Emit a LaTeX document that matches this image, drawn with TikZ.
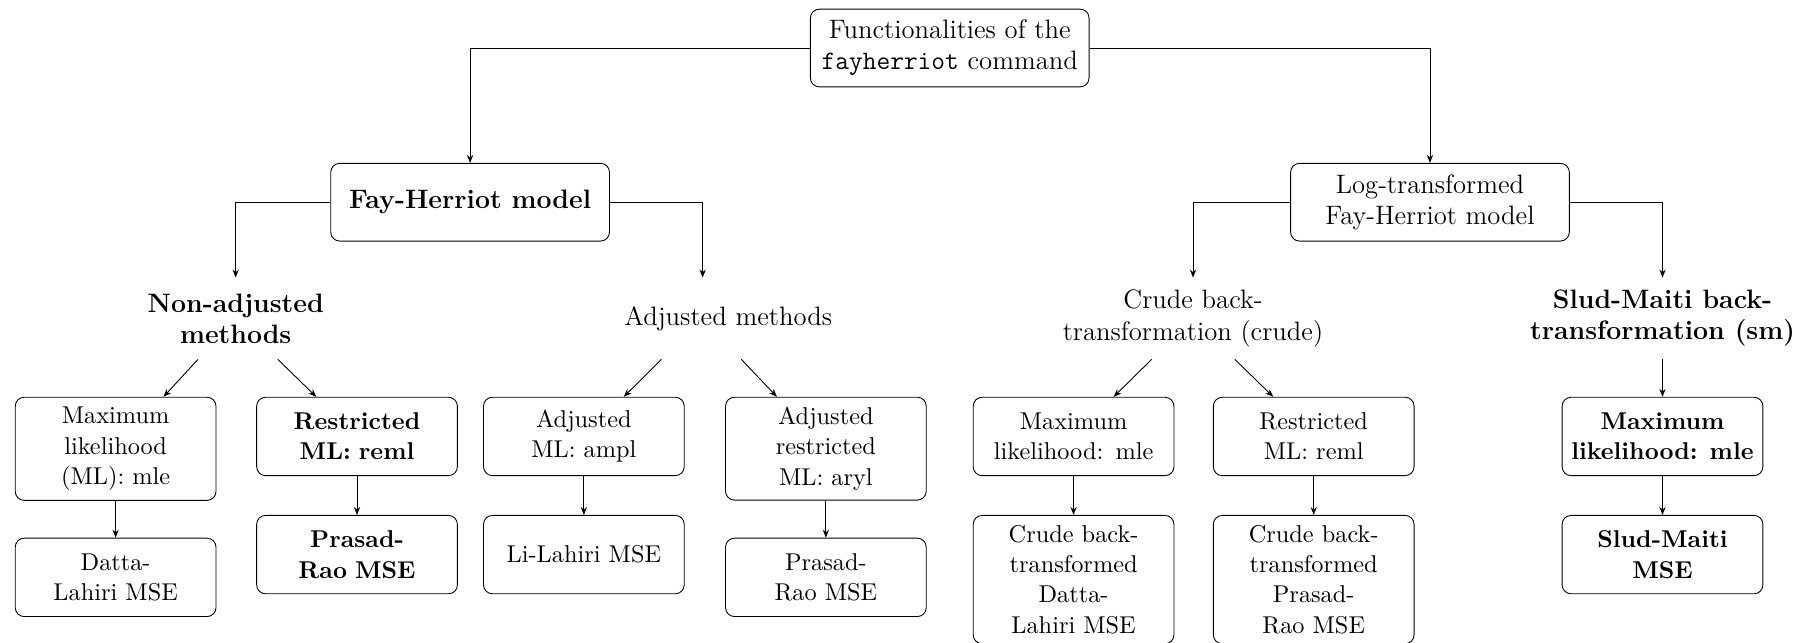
\documentclass[11pt,tikz,border=0pt]{standalone}
\usepackage{amssymb}
\usepackage{amsmath}
\usepackage{tikz}
\usetikzlibrary{arrows.meta}

\tikzset{
        conn/.style = {-{Stealth[length=3.6pt, width=2.8pt]}, line width = 0.4},
        topbox/.style = {draw, rounded corners = 4pt, align = center, minimum width = 4.41cm, minimum height = 1.23cm, font = \large},
        methodtext/.style = {align = center, minimum height = 1.28cm, font = \large},
        smallbox/.style = {draw, rounded corners = 4pt, align = center, text width = 2.92cm, minimum height = 1.24cm, inner ysep = 4.5pt, anchor = north},
        heavy/.style = {font = \bfseries}
}

\begin{document}
\begin{tikzpicture}
        \useasboundingbox (0,0) rectangle (28.66,-10.17);

        \node[topbox] (func) at (15.03,-0.76) {Functionalities of the\\\texttt{fayherriot} command};
        \node[topbox, font = \large\bfseries] (fh) at (7.44,-3.20) {Fay-Herriot model};
        \node[topbox] (logfh) at (22.63,-3.20) {Log-transformed\\Fay-Herriot model};
        \draw[conn] (func) -| (fh);
        \draw[conn] (func) -| (logfh);

        \node[methodtext, font = \large\bfseries] (nonadj) at (3.73,-5.04) {Non-adjusted\\methods};
        \node[methodtext, text width = 4.1cm, align = right] (adj) at (11.12,-5.04) {Adjusted methods};
        \node[methodtext] (crude) at (18.88,-5.04) {Crude back-\\transformation (crude)};
        \node[methodtext, font = \large\bfseries] (sm) at (26.31,-5.04) {Slud-Maiti back-\\transformation (sm)};
        \draw[conn] (fh) -| (nonadj);
        \draw[conn] (fh) -| (adj);
        \draw[conn] (logfh) -| (crude);
        \draw[conn] (logfh) -| (sm);

        \node[smallbox] (mle) at (1.83,-6.28) {Maximum\\likelihood\\(ML): mle};
        \node[smallbox, heavy] (reml) at (5.65,-6.28) {Restricted\\ML: reml};
        \node[smallbox] (ampl) at (9.24,-6.28) {Adjusted\\ML: ampl};
        \node[smallbox] (aryl) at (13.07,-6.28) {Adjusted\\restricted\\ML: aryl};
        \node[smallbox] (crudemle) at (16.99,-6.28) {Maximum\\likelihood: mle};
        \node[smallbox] (crudereml) at (20.79,-6.28) {Restricted\\ML: reml};
        \node[smallbox, heavy] (smmle) at (26.31,-6.28) {Maximum\\likelihood: mle};
        \draw[conn] (nonadj) -- (mle);
        \draw[conn] (nonadj) -- (reml);
        \draw[conn] (adj) -- (ampl);
        \draw[conn] (adj) -- (aryl);
        \draw[conn] (crude) -- (crudemle);
        \draw[conn] (crude) -- (crudereml);
        \draw[conn] (sm) -- (smmle);

        \node[smallbox] (dlmse) at (1.83,-8.51) {Datta-\\Lahiri MSE};
        \node[smallbox, heavy] (prmse) at (5.65,-8.15) {Prasad-\\Rao MSE};
        \node[smallbox] (llmse) at (9.24,-8.15) {Li-Lahiri MSE};
        \node[smallbox] (arprmse) at (13.07,-8.51) {Prasad-\\Rao MSE};
        \node[smallbox] (crudedl) at (16.99,-8.15) {Crude back-\\transformed\\Datta-\\Lahiri MSE};
        \node[smallbox] (crudepr) at (20.79,-8.15) {Crude back-\\transformed\\Prasad-\\Rao MSE};
        \node[smallbox, heavy] (smmse) at (26.31,-8.15) {Slud-Maiti\\MSE};
        \draw[conn] (mle) -- (dlmse);
        \draw[conn] (reml) -- (prmse);
        \draw[conn] (ampl) -- (llmse);
        \draw[conn] (aryl) -- (arprmse);
        \draw[conn] (crudemle) -- (crudedl);
        \draw[conn] (crudereml) -- (crudepr);
        \draw[conn] (smmle) -- (smmse);
\end{tikzpicture}
\end{document}
